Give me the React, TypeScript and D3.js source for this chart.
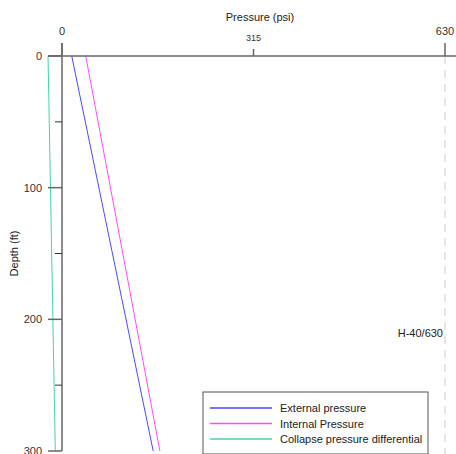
import React from 'react';
import * as d3 from 'd3';

// data
const depths = [0, 300];
const externalPressure = [16, 150];
const internalPressure = [39, 161];
const collapseDifferential = [-23, -11];
const majorDepthTicks = [0, 100, 200, 300];
const minorDepthTicks = [50, 150, 250];
const majorPressureTicks = [0, 630];
const minorPressureTicks = [315];
const ratingLabel = 'H-40/630';
const ratingValue = 630;

const series = [
  { name: 'External pressure', values: externalPressure, color: '#4a4aff' },
  { name: 'Internal Pressure', values: internalPressure, color: '#ff4dff' },
  { name: 'Collapse pressure differential', values: collapseDifferential, color: '#45d6a3' },
];

export default function App() {
  const width = 456;
  const height = 454;
  const font = 'Liberation Sans, Arial, sans-serif';

  const x = d3.scaleLinear().domain([0, 630]).range([62, 445]);
  const y = d3.scaleLinear().domain([0, 300]).range([56, 451]);
  const left = x(-23);

  const line = d3
    .line<number>()
    .x((d) => x(d))
    .y((_, i) => y(depths[i]));

  return (
    <div style={{ position: 'fixed', left: 0, top: 0 }}>
      <svg width={width} height={height} style={{ display: 'block', fontFamily: font }}>
        <rect width={width} height={height} fill='#fff' />
        {/* rating line */}
        <line x1={x(ratingValue)} x2={x(ratingValue)} y1={y(0)} y2={height} stroke='#ddd' strokeWidth={1.5} strokeDasharray='8,6' />
        <text x={x(ratingValue) - 2} y={y(210) + 4} textAnchor='end' fontSize={11} fill='#222'>
          {ratingLabel}
        </text>

        {/* series */}
        {series.map((s) => (
          <path key={s.name} d={line(s.values) || ''} fill='none' stroke={s.color} strokeWidth={1} />
        ))}

        {/* top axis */}
        <line x1={left} x2={width} y1={y(0)} y2={y(0)} stroke='#666' strokeWidth={1.5} />
        {majorPressureTicks.map((t) => (
          <g key={t}>
            <line x1={x(t)} x2={x(t)} y1={43} y2={y(0)} stroke='#666' strokeWidth={1.5} />
            <text x={x(t)} y={35} textAnchor='middle' fontSize={11} fill='#333'>{t}</text>
          </g>
        ))}
        {minorPressureTicks.map((t) => (
          <g key={t}>
            <line x1={x(t)} x2={x(t)} y1={49} y2={y(0)} stroke='#666' strokeWidth={1.5} />
            <text x={x(t)} y={41} textAnchor='middle' fontSize={9} fill='#333'>{t}</text>
          </g>
        ))}
        <text x={260} y={21} textAnchor='middle' fontSize={11} fill='#222'>Pressure (psi)</text>

        {/* left axis */}
        <line x1={x(0)} x2={x(0)} y1={43} y2={y(300)} stroke='#666' strokeWidth={1.5} />
        {majorDepthTicks.map((t) => (
          <g key={t}>
            <line x1={left} x2={x(0)} y1={y(t)} y2={y(t)} stroke='#666' strokeWidth={1.5} />
            <text x={42} y={y(t) + 4} textAnchor='end' fontSize={11} fill='#333'>{t}</text>
          </g>
        ))}
        {minorDepthTicks.map((t) => (
          <line key={t} x1={x(0) - 7} x2={x(0)} y1={y(t)} y2={y(t)} stroke='#333' strokeWidth={1} />
        ))}
        <text transform={`translate(18,${(y(0) + y(300)) / 2}) rotate(-90)`} textAnchor='middle' fontSize={11} fill='#222'>
          Depth (ft)
        </text>

        {/* legend */}
        <g transform='translate(203,392)'>
          <rect x={0} y={0} width={225} height={62} fill='#fff' stroke='#555' strokeWidth={1} />
          {series.map((s, i) => (
            <g key={s.name} transform={`translate(0,${16 + i * 15.5})`}>
              <line x1={7} x2={69} y1={0} y2={0} stroke={s.color} strokeWidth={1.5} />
              <text x={77} y={4} fontSize={11} fill='#222'>{s.name}</text>
            </g>
          ))}
        </g>
      </svg>
    </div>
  );
}
